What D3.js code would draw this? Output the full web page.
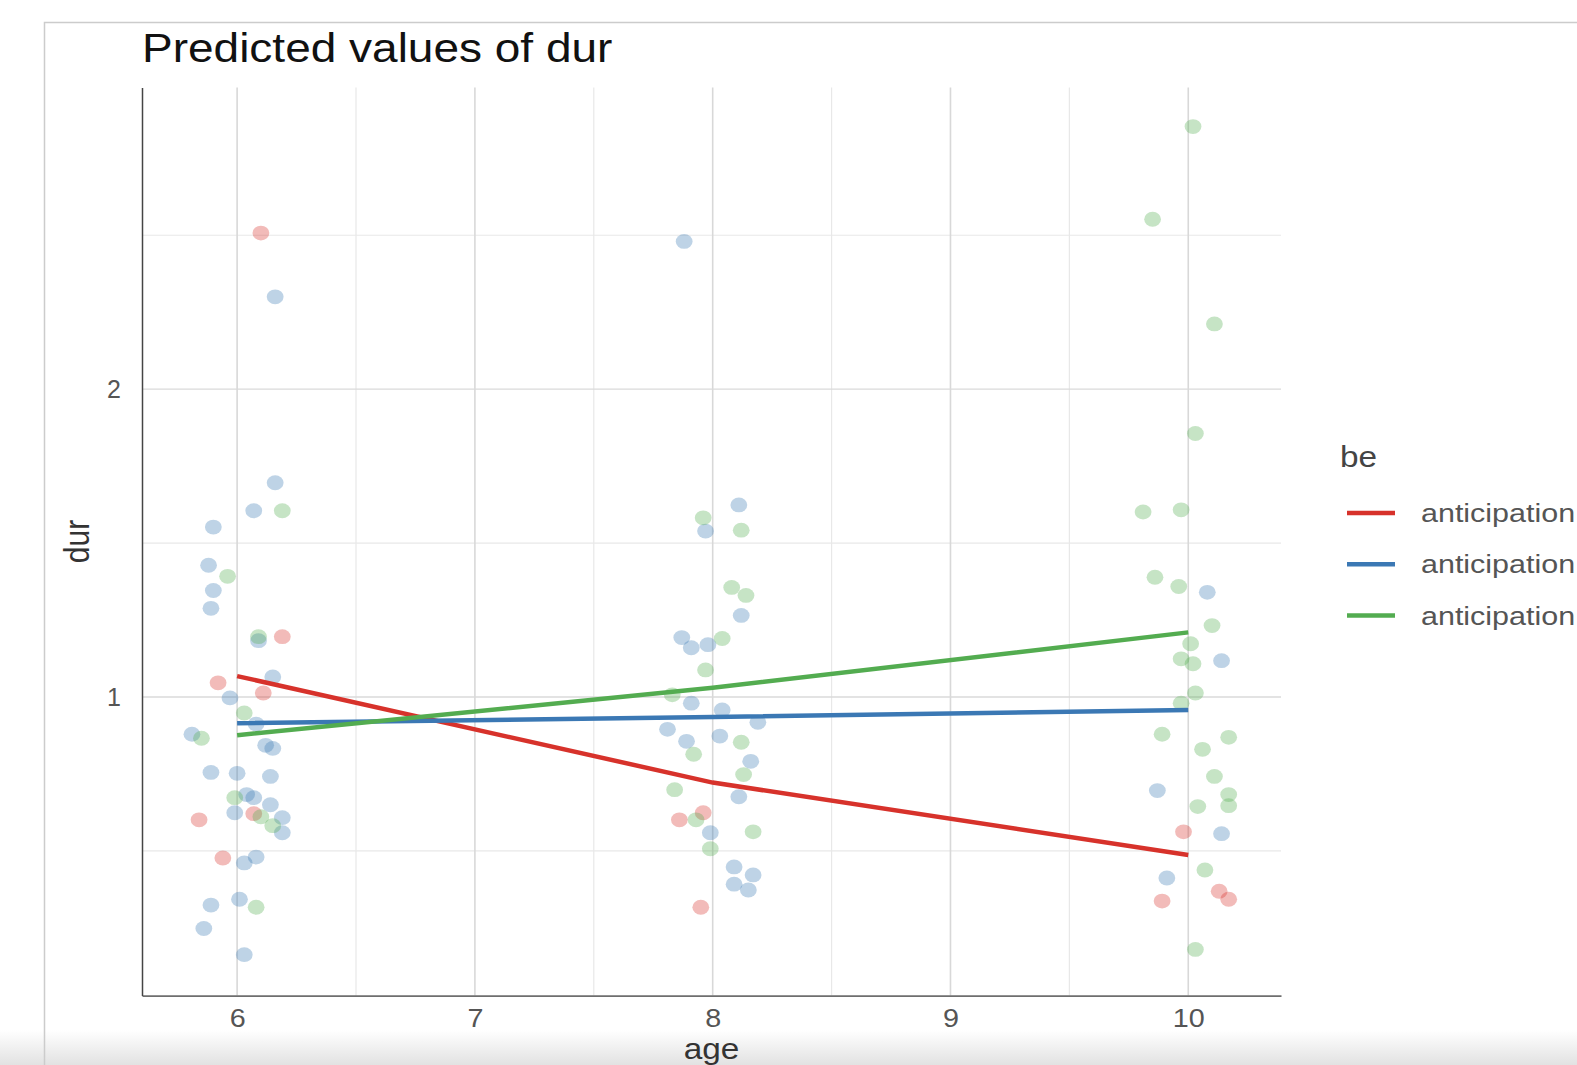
<!DOCTYPE html>
<html>
<head>
<meta charset="utf-8">
<script src="https://cdn.jsdelivr.net/npm/d3@7"></script>
<style>
body { margin: 0; background: #fff; overflow: hidden; }
text { font-family: "Liberation Sans", Arial, sans-serif; }
</style>
</head>
<body>
<div id="chart"></div>
<script>
// legend levels and colours
var levels = ["anticipation", "anticipation", "anticipation"];
var colors = ["#d7322b", "#3b78b4", "#53ac50"];

// predicted lines
var predAge = [6, 8, 10];
var predRed = [1.068, 0.722, 0.487];
var predBlue = [0.915, 0.935, 0.958];
var predGreen = [0.876, 1.03, 1.21];

// raw (jittered) observations
var redAge = [6.10, 6.19, 5.92, 6.11, 5.84, 6.07, 5.94, 7.86, 7.96, 7.95, 9.98, 10.13, 10.17, 9.89];
var redDur = [2.507, 1.196, 1.046, 1.013, 0.601, 0.621, 0.477, 0.601, 0.624, 0.317, 0.562, 0.369, 0.343, 0.337];

var blueAge = [6.16, 6.16, 6.07, 5.90, 5.88, 5.90, 5.89, 6.09, 6.15, 5.97, 6.08, 5.81, 6.12, 6.15, 5.89, 6.00, 6.14, 6.04, 6.07, 6.14, 5.99, 6.19, 6.19, 6.08, 6.03, 5.89, 6.01, 5.86, 6.03,
  7.88, 8.11, 7.97, 8.12, 7.87, 7.91, 7.98, 7.91, 8.04, 8.19, 7.81, 7.89, 8.03, 8.16, 8.11, 7.99, 8.09, 8.17, 8.09, 8.15,
  10.08, 10.14, 9.87, 10.14, 9.91];
var blueDur = [2.30, 1.696, 1.605, 1.552, 1.428, 1.346, 1.288, 1.183, 1.065, 0.997, 0.912, 0.879, 0.843, 0.833, 0.755, 0.752, 0.742, 0.683, 0.673, 0.650, 0.624, 0.608, 0.559, 0.480, 0.461, 0.324, 0.343, 0.248, 0.163,
  2.48, 1.624, 1.539, 1.265, 1.193, 1.160, 1.170, 0.980, 0.958, 0.918, 0.895, 0.856, 0.873, 0.791, 0.676, 0.559, 0.448, 0.422, 0.392, 0.373,
  1.340, 1.118, 0.696, 0.556, 0.412];

var greenAge = [6.19, 5.96, 6.09, 6.03, 5.85, 5.99, 6.10, 6.15, 6.08,
  7.96, 8.12, 8.08, 8.14, 8.04, 7.97, 7.83, 7.92, 8.12, 8.13, 7.84, 7.93, 8.17, 7.99,
  10.02, 9.85, 10.11, 10.03, 9.81, 9.97, 9.86, 9.96, 10.10, 10.01, 9.97, 10.02, 10.03, 9.97, 9.89, 10.06, 10.17, 10.11, 10.17, 10.17, 10.04, 10.07, 10.03];
var greenDur = [1.605, 1.392, 1.196, 0.948, 0.866, 0.673, 0.611, 0.582, 0.317,
  1.582, 1.542, 1.356, 1.330, 1.190, 1.088, 1.007, 0.814, 0.853, 0.748, 0.699, 0.601, 0.562, 0.507,
  2.853, 2.552, 2.212, 1.856, 1.601, 1.608, 1.389, 1.359, 1.232, 1.173, 1.124, 1.108, 1.013, 0.980, 0.879, 0.830, 0.869, 0.742, 0.683, 0.647, 0.644, 0.438, 0.180];

var xMajor = [6, 7, 8, 9, 10];
var xMinor = [6.5, 7.5, 8.5, 9.5];
var yMajor = [1, 2];
var yMinor = [0.5, 1.5, 2.5];

var W = 1577, H = 1065;
var stretch = 1.15; // the picture is a bit wide
var margin = { top: 87.5, left: 142, right: 296, bottom: 69.4 };

var svg = d3.select("#chart").append("svg")
  .attr("width", W).attr("height", H);

// grey fade at the bottom of the screenshot
var defs = svg.append("defs");
var grad = defs.append("linearGradient").attr("id", "fade")
  .attr("x1", 0).attr("y1", 0).attr("x2", 0).attr("y2", 1);
grad.append("stop").attr("offset", "0%").attr("stop-color", "#fff");
grad.append("stop").attr("offset", "100%").attr("stop-color", "#e2e2e2");
svg.append("rect").attr("x", 0).attr("y", 1030).attr("width", W).attr("height", 35)
  .attr("fill", "url(#fade)");

// outer frame
svg.append("rect").attr("x", 44.5).attr("y", 22.5).attr("width", W).attr("height", H)
  .attr("fill", "none").attr("stroke", "#cccccc").attr("stroke-width", 1.5);

var x = d3.scaleLinear().domain([5.6, 10.39]).range([margin.left, W - margin.right]);
var y = d3.scaleLinear().domain([0.03, 2.98]).range([H - margin.bottom, margin.top]);

var g = svg.append("g");

// grid
g.selectAll(".xminor").data(xMinor).enter().append("line")
  .attr("x1", d => x(d)).attr("x2", d => x(d))
  .attr("y1", y.range()[0]).attr("y2", y.range()[1])
  .attr("stroke", "#e8e8e8").attr("stroke-width", 1.2);
g.selectAll(".yminor").data(yMinor).enter().append("line")
  .attr("y1", d => y(d)).attr("y2", d => y(d))
  .attr("x1", x.range()[0]).attr("x2", x.range()[1])
  .attr("stroke", "#e8e8e8").attr("stroke-width", 1.2);
g.selectAll(".xmajor").data(xMajor).enter().append("line")
  .attr("x1", d => x(d)).attr("x2", d => x(d))
  .attr("y1", y.range()[0]).attr("y2", y.range()[1])
  .attr("stroke", "#d8d8d8").attr("stroke-width", 1.6);
g.selectAll(".ymajor").data(yMajor).enter().append("line")
  .attr("y1", d => y(d)).attr("y2", d => y(d))
  .attr("x1", x.range()[0]).attr("x2", x.range()[1])
  .attr("stroke", "#dadada").attr("stroke-width", 1.4);

// points
var sets = [[redAge, redDur], [blueAge, blueDur], [greenAge, greenDur]];
sets.forEach(function(s, k) {
  var pts = s[0].map(function(a, i) { return { age: a, dur: s[1][i] }; });
  g.append("g").selectAll("ellipse").data(pts).enter().append("ellipse")
    .attr("cx", d => x(d.age)).attr("cy", d => y(d.dur))
    .attr("rx", 8.4).attr("ry", 7.4)
    .attr("fill", colors[k]).attr("fill-opacity", 0.33);
});

// predicted lines
var line = d3.line().x(d => x(d[0])).y(d => y(d[1]));
[predRed, predBlue, predGreen].forEach(function(p, k) {
  g.append("path").datum(predAge.map((a, i) => [a, p[i]]))
    .attr("d", line).attr("fill", "none")
    .attr("stroke", colors[k]).attr("stroke-width", 4.5);
});

// axes
var xAxis = g.append("g").attr("transform", "translate(0," + y.range()[0] + ")")
  .call(d3.axisBottom(x).tickValues(xMajor).tickSize(0).tickPadding(14).tickFormat(d3.format("d")));
xAxis.select(".domain").attr("stroke", "#6e6e6e").attr("stroke-width", 1.8);
xAxis.selectAll("text").attr("font-size", 25).attr("fill", "#555")
  .attr("transform", "scale(" + stretch + ",1)");

var yAxis = g.append("g").attr("transform", "translate(" + x.range()[0] + ",0)")
  .call(d3.axisLeft(y).tickValues(yMajor).tickSize(0).tickPadding(21).tickFormat(d3.format("d")));
yAxis.select(".domain").attr("stroke", "#444").attr("stroke-width", 1.5);
yAxis.selectAll("text").attr("font-size", 25).attr("fill", "#555");

// titles
svg.append("text").attr("x", 0).attr("y", 0)
  .attr("transform", "translate(142,62) scale(" + stretch + ",1)")
  .attr("font-size", 40).attr("fill", "#111").text("Predicted values of dur");

svg.append("text")
  .attr("transform", "translate(89," + ((y.range()[0] + y.range()[1]) / 2) + ") rotate(-90) scale(1," + stretch + ")")
  .attr("text-anchor", "middle").attr("font-size", 30).attr("fill", "#333").text("dur");

svg.append("text")
  .attr("transform", "translate(" + ((x.range()[0] + x.range()[1]) / 2) + ",1059) scale(" + stretch + ",1)")
  .attr("text-anchor", "middle").attr("font-size", 29).attr("fill", "#333").text("age");

// legend
var lg = svg.append("g").attr("transform", "translate(1340,0)");
lg.append("text").attr("transform", "translate(0,467) scale(" + stretch + ",1)")
  .attr("font-size", 29).attr("fill", "#444").text("be");
var items = lg.selectAll(".item").data(levels).enter().append("g")
  .attr("transform", (d, i) => "translate(0," + (513 + i * 51.3) + ")");
items.append("line").attr("x1", 7).attr("x2", 55)
  .attr("stroke", (d, i) => colors[i]).attr("stroke-width", 4.5);
items.append("text").attr("transform", "translate(81,9) scale(" + stretch + ",1)")
  .attr("font-size", 26.5).attr("fill", "#555").text(d => d);
</script>
</body>
</html>
